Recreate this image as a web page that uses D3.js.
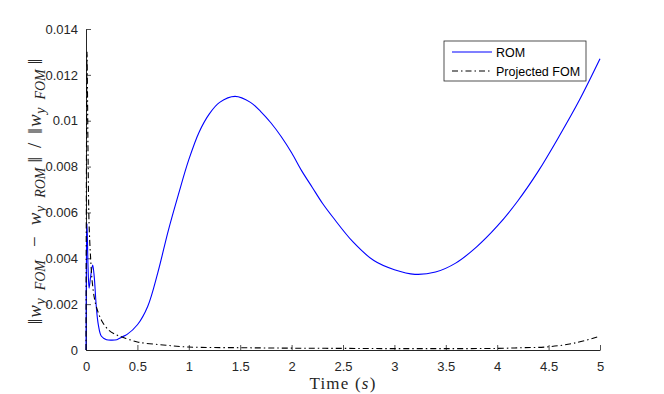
<!DOCTYPE html>
<html>
<head>
<meta charset="utf-8">
<script src="https://cdn.jsdelivr.net/npm/d3@7"></script>
<style>
  body { margin: 0; background: #fff; }
  svg { display: block; }
  .tick text { font-family: "Liberation Sans", Arial, sans-serif; font-size: 13px; fill: #262626; }
</style>
</head>
<body>
<script>
// ROM error (blue)
var romTime = [0, 0.005, 0.01, 0.02, 0.03, 0.045, 0.065, 0.08, 0.1, 0.12, 0.15, 0.2, 0.25, 0.3, 0.35, 0.4,
  0.5, 0.6, 0.7, 0.8, 0.9, 1.0, 1.1, 1.2, 1.3, 1.45, 1.6, 1.7, 1.8, 1.9, 2.0, 2.1, 2.2, 2.3, 2.4,
  2.6, 2.8, 3.0, 3.2, 3.4, 3.6, 3.8, 4.0, 4.2, 4.4, 4.6, 4.8, 5.0];
var romVals = [0, 0.0045, 0.0055, 0.0036, 0.0027, 0.0032, 0.0037, 0.0032, 0.0019, 0.0011, 0.0006, 0.00045, 0.00043, 0.00045, 0.00057, 0.00068,
  0.0011, 0.0019, 0.0034, 0.0052, 0.0068, 0.0083, 0.0095, 0.0103, 0.0108, 0.01106, 0.0108, 0.0104, 0.0099, 0.0093, 0.0086, 0.0078, 0.0071, 0.0064, 0.0058,
  0.0047, 0.0039, 0.0035, 0.0033, 0.0034, 0.0038, 0.0045, 0.0054, 0.0065, 0.0078, 0.0093, 0.0109, 0.0127];

// Projected FOM error (black dash-dot)
var fomTime = [0, 0.005, 0.01, 0.015, 0.02, 0.03, 0.045, 0.06, 0.08, 0.1, 0.15, 0.22, 0.3, 0.35, 0.5, 0.75,
  1.0, 1.5, 2.0, 2.5, 3.0, 3.5, 4.0, 4.25, 4.5, 4.75, 5.0];
var fomVals = [0, 0.009, 0.013, 0.011, 0.0085, 0.0055, 0.004, 0.003, 0.0023, 0.0019, 0.0013, 0.00087, 0.00065, 0.00057, 0.00035, 0.00022,
  0.00013, 0.0001, 0.00008, 0.00007, 0.00006, 0.00006, 0.00007, 0.0001, 0.00014, 0.0003, 0.0006];

var xTicks = [0, 0.5, 1, 1.5, 2, 2.5, 3, 3.5, 4, 4.5, 5];
var yTicks = [0, 0.002, 0.004, 0.006, 0.008, 0.01, 0.012, 0.014];
var seriesNames = ["ROM", "Projected FOM"];

var W = 664, H = 394;
var margin = { top: 29, right: 64, bottom: 44, left: 86 };
var width = W - margin.left - margin.right;
var height = H - margin.top - margin.bottom;

var svg = d3.select("body").append("svg")
  .attr("width", W)
  .attr("height", H);

var g = svg.append("g")
  .attr("transform", `translate(${margin.left},${margin.top})`);

var x = d3.scaleLinear().domain([0, 5]).range([0, width]);
var y = d3.scaleLinear().domain([0, 0.014]).range([height, 0]);

// axes, ticks pointing inwards
var xAxis = g.append("g")
  .attr("transform", `translate(0,${height})`)
  .call(d3.axisBottom(x).tickValues(xTicks).tickSize(-5).tickSizeOuter(0).tickPadding(12)
    .tickFormat(d => d3.format("")(d)));
var yAxis = g.append("g")
  .call(d3.axisLeft(y).tickValues(yTicks).tickSize(-5).tickSizeOuter(0).tickPadding(8)
    .tickFormat(d => d === 0 ? "0" : d3.format("")(+d.toFixed(3))));
[xAxis, yAxis].forEach(a => {
  a.select(".domain").attr("stroke", "#262626").attr("stroke-width", 1);
  a.selectAll(".tick line").attr("stroke", "#262626").attr("stroke-width", 0.8);
});

var line = d3.line()
  .x(d => x(d[0]))
  .y(d => y(d[1]))
  .curve(d3.curveCatmullRom.alpha(0.5));

g.append("path")
  .datum(romTime.map((t, i) => [t, romVals[i]]))
  .attr("fill", "none")
  .attr("stroke", "#0000ff")
  .attr("stroke-width", 1.1)
  .attr("d", line);

g.append("path")
  .datum(fomTime.map((t, i) => [t, fomVals[i]]))
  .attr("fill", "none")
  .attr("stroke", "#000")
  .attr("stroke-width", 1.1)
  .attr("stroke-dasharray", "6,3,1.5,3")
  .attr("d", line);

// legend
var leg = svg.append("g").attr("transform", "translate(444,41)");
leg.append("rect")
  .attr("width", 142).attr("height", 40)
  .attr("fill", "#fff").attr("stroke", "#262626").attr("stroke-width", 0.8);
seriesNames.forEach((name, i) => {
  var yy = 11 + i * 19;
  leg.append("line")
    .attr("x1", 8).attr("x2", 48).attr("y1", yy).attr("y2", yy)
    .attr("stroke", i === 0 ? "#0000ff" : "#000")
    .attr("stroke-width", 1.1)
    .attr("stroke-dasharray", i === 0 ? null : "6,3,1.5,3");
  leg.append("text")
    .attr("x", 52).attr("y", yy + 4.5)
    .attr("font-family", "Liberation Sans, Arial, sans-serif")
    .attr("font-size", 12.5)
    .attr("fill", "#000")
    .text(name);
});

// x label
var xl = svg.append("text")
  .attr("x", margin.left + width / 2)
  .attr("y", 389)
  .attr("text-anchor", "middle")
  .attr("font-family", "Liberation Serif, 'DejaVu Serif', serif")
  .attr("font-size", 17)
  .attr("letter-spacing", 1.2)
  .attr("fill", "#262626");
xl.append("tspan").text("Time (");
xl.append("tspan").attr("font-style", "italic").text("s");
xl.append("tspan").text(")");

// y label: pieces laid out one after another, then rotated
var ylParts = [];
function norm(gap) { ylParts.push({ t: "\u2016", size: 20, dy: 1, it: false, gap: gap || 1 }); }
function wy(name) {
  ylParts.push({ t: "w", size: 19, dy: 0, it: true, gap: 0.5 });
  ylParts.push({ t: "y", size: 14, dy: 4, it: true, gap: 5 });
  ylParts.push({ t: name, size: 14, dy: 4, it: true, gap: 2 });
}
norm(); wy("FOM");
ylParts.push({ t: "\u2212", size: 19, dy: 0, it: false, gap: 8, pre: 8 });
wy("ROM"); norm(6);
ylParts.push({ t: "/", size: 19, dy: 0, it: false, gap: 6 });
norm(); wy("FOM"); norm();

// measure first, then spread a little spare length over the gaps
var ylG = svg.append("g");
var natural = 0, nGaps = 0;
var nodes = ylParts.map(p => {
  var t = ylG.append("text")
    .attr("y", p.dy)
    .attr("font-family", "Liberation Serif, 'DejaVu Serif', serif")
    .attr("font-size", p.size)
    .attr("font-style", p.it ? "italic" : "normal")
    .attr("fill", "#262626")
    .text(p.t);
  natural += (p.pre || 0) + t.node().getComputedTextLength() + p.gap;
  if (p.gap > 1) nGaps++;
  return t;
});
var extra = Math.min(3, Math.max(0, 326 - natural) / nGaps);
var cursor = 0;
ylParts.forEach((p, i) => {
  cursor += p.pre || 0;
  nodes[i].attr("x", cursor);
  cursor += nodes[i].node().getComputedTextLength() + p.gap + (p.gap > 1 ? extra : 0);
});
ylG.attr("transform", `translate(41,${191 + cursor / 2}) rotate(-90)`);
</script>
</body>
</html>
